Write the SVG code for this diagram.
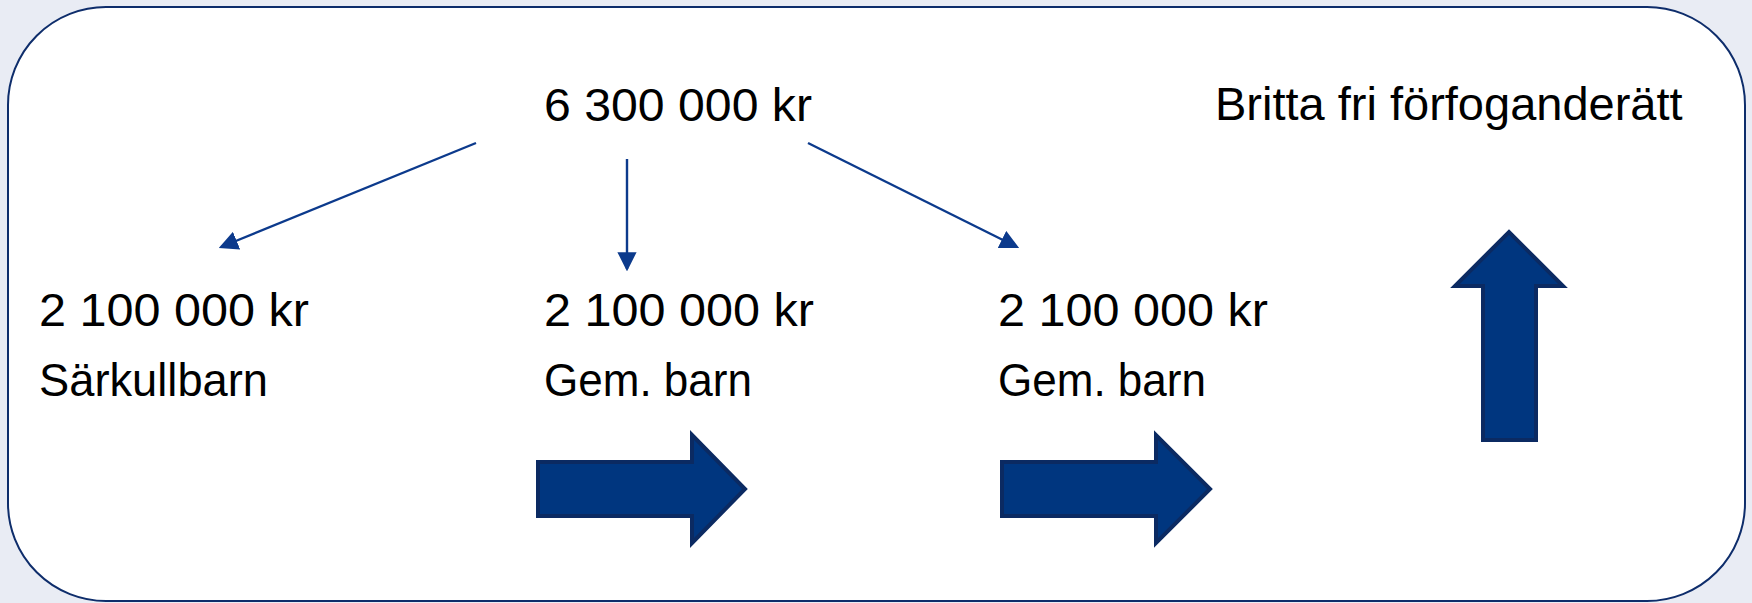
<svg xmlns="http://www.w3.org/2000/svg" width="1752" height="603" viewBox="0 0 1752 603">
  <defs>
    <style>
      .t { font-family: "Liberation Sans", Arial, sans-serif; font-size: 47px; fill: #000; }
      .conn { stroke: #0c3a8c; stroke-width: 2.4; fill: none; marker-end: url(#ah); }
      .blk { fill: #00367f; stroke: #0b2a62; stroke-width: 4; stroke-linejoin: miter; }
    </style>
    <marker id="ah" markerWidth="8" markerHeight="8" refX="7" refY="4" orient="auto" markerUnits="strokeWidth" viewBox="0 0 8 8">
      <path d="M0,0 L8,4 L0,8 Z" fill="#0c3a8c"/>
    </marker>
  </defs>
  <rect x="0" y="0" width="1752" height="603" fill="#e9ecf4"/>
  <g id="frame">
    <rect x="8" y="7" width="1737" height="594" rx="98" ry="98" fill="#ffffff" stroke="#0e2d6b" stroke-width="2"/>
  </g>
  <g id="total"><text class="t" x="544" y="121" textLength="268" lengthAdjust="spacingAndGlyphs">6 300 000 kr</text></g>
  <g id="britta"><text class="t" x="1215" y="120">Britta fri förfoganderätt</text></g>
  <g id="sarkull">
    <text class="t" x="39" y="326" textLength="270" lengthAdjust="spacingAndGlyphs">2 100 000 kr</text>
    <text class="t" x="39" y="396" textLength="229" lengthAdjust="spacingAndGlyphs">Särkullbarn</text>
  </g>
  <g id="gem1">
    <text class="t" x="544" y="326" textLength="270" lengthAdjust="spacingAndGlyphs">2 100 000 kr</text>
    <text class="t" x="544" y="396" textLength="208" lengthAdjust="spacingAndGlyphs">Gem. barn</text>
  </g>
  <g id="gem2">
    <text class="t" x="998" y="326" textLength="270" lengthAdjust="spacingAndGlyphs">2 100 000 kr</text>
    <text class="t" x="998" y="396" textLength="208" lengthAdjust="spacingAndGlyphs">Gem. barn</text>
  </g>
  <g id="connectors">
    <line class="conn" x1="476" y1="143" x2="221" y2="247"/>
    <line class="conn" x1="627" y1="159" x2="627" y2="269"/>
    <line class="conn" x1="808" y1="143" x2="1017" y2="247"/>
  </g>
  <g id="arrow1"><path class="blk" d="M538,462 L692,462 L692,435 L745,489 L692,543 L692,516 L538,516 Z"/></g>
  <g id="arrow2"><path class="blk" d="M1002,462 L1156,462 L1156,435 L1210,489 L1156,543 L1156,516 L1002,516 Z"/></g>
  <g id="arrow3"><path class="blk" d="M1483,440 L1483,286 L1455,286 L1509,232 L1563,286 L1536,286 L1536,440 Z"/></g>
</svg>
